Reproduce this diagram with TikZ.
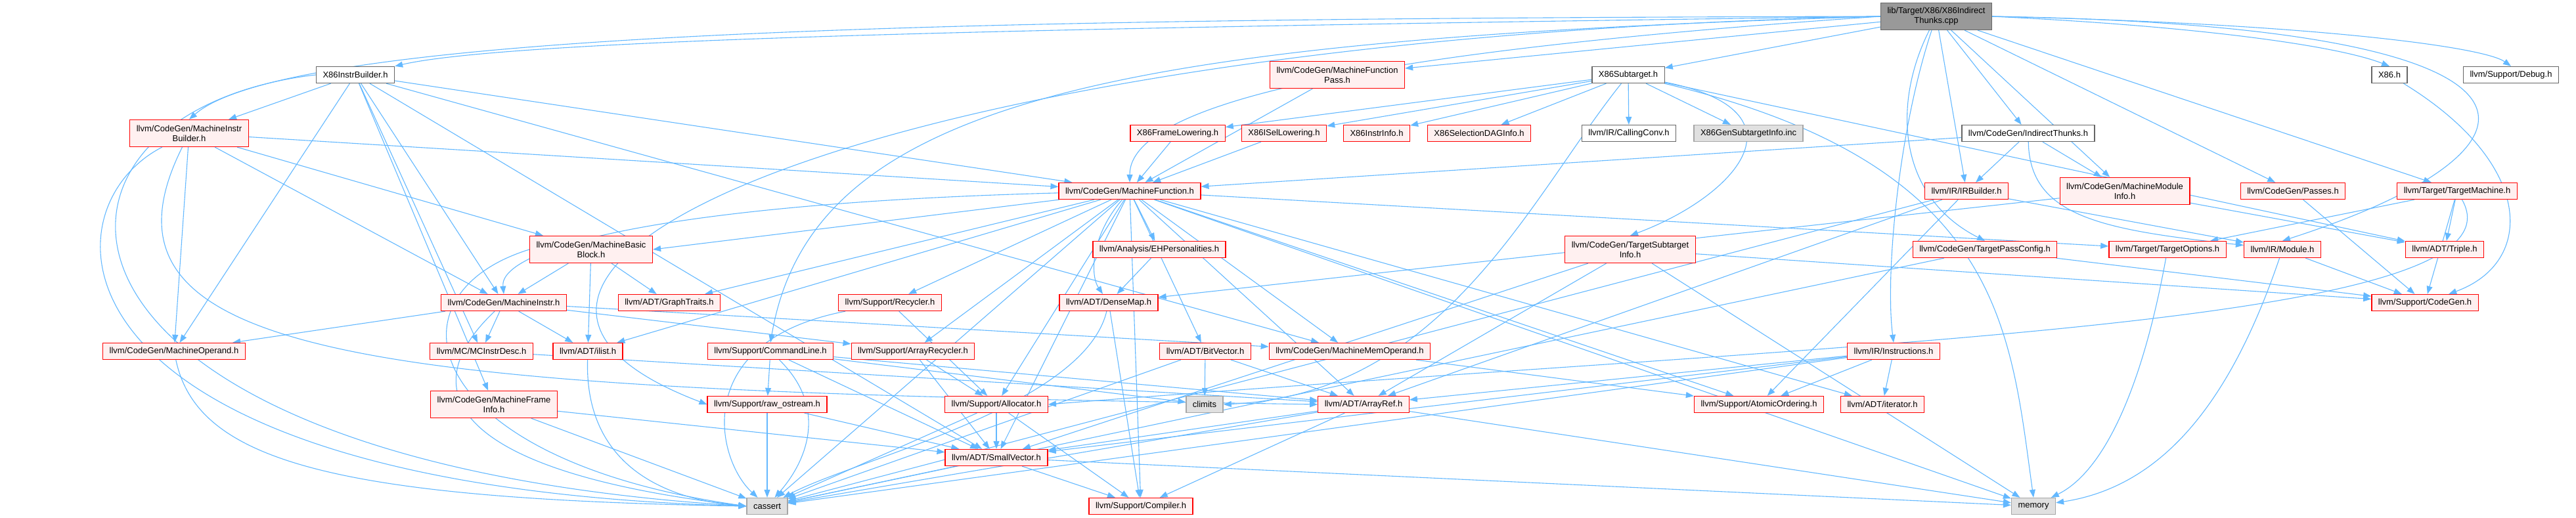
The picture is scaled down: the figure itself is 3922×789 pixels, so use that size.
\documentclass[tikz,border=0pt]{standalone}
\usepackage{fontspec}
\setmainfont{Liberation Sans}
\usetikzlibrary{arrows.meta,backgrounds}
\definecolor{EdgeBlue}{HTML}{63B8FF}
\definecolor{BoxRed}{HTML}{FF0000}
\definecolor{BoxPink}{HTML}{FFF0F0}
\definecolor{BoxGrey}{HTML}{E0E0E0}
\definecolor{RootGrey}{HTML}{999999}

\begin{document}
\begin{tikzpicture}[x=1pt,y=1pt,font=\fontsize{13}{15}\selectfont,>={Triangle[length=12pt,width=9pt]},
  hdr/.style={draw=BoxRed,fill=BoxPink,line width=1.3pt,minimum height=25pt,inner xsep=10pt,inner ysep=2pt,align=center},
  hdrtwo/.style={hdr,minimum height=41pt},
  doc/.style={hdr,draw=black!60,fill=white},
  sys/.style={hdr,draw=black!35,fill=BoxGrey},
  root/.style={hdr,draw=black!60,fill=RootGrey,minimum height=41pt},
  dep/.style={->,draw=EdgeBlue,line width=1.1pt}]
  \useasboundingbox (0,0) rectangle (3922,-789);

  % row 0 and 1
  \node[root]   (main)   at (2948,-25)  {lib/Target/X86/X86Indirect\\Thunks.cpp};
  \node[doc]    (x86ib)  at (541,-114)  {X86InstrBuilder.h};
  \node[hdrtwo] (mib)    at (288,-203)  {llvm/CodeGen/MachineInstr\\Builder.h};
  \node[hdrtwo] (mfp)    at (2036,-114) {llvm/CodeGen/MachineFunction\\Pass.h};
  \node[doc]    (x86st)  at (2479,-114) {X86Subtarget.h};
  \node[doc]    (x86h)   at (3638,-114) {X86.h};
  \node[doc]    (dbg)    at (3823,-114) {llvm/Support/Debug.h};
  % row 2
  \node[hdr]    (fl)     at (1793,-203) {X86FrameLowering.h};
  \node[hdr]    (isel)   at (1955,-203) {X86ISelLowering.h};
  \node[hdr]    (ii)     at (2096,-203) {X86InstrInfo.h};
  \node[hdr]    (sdag)   at (2252,-203) {X86SelectionDAGInfo.h};
  \node[doc]    (cc)     at (2480,-203) {llvm/IR/CallingConv.h};
  \node[sys]    (gsi)    at (2662,-203) {X86GenSubtargetInfo.inc};
  \node[doc]    (it)     at (3088,-203) {llvm/CodeGen/IndirectThunks.h};
  % row 3
  \node[hdr]    (mf)     at (1720,-291) {llvm/CodeGen/MachineFunction.h};
  \node[hdr]    (irb)    at (2994,-291) {llvm/IR/IRBuilder.h};
  \node[hdrtwo] (mmi)    at (3235,-291) {llvm/CodeGen/MachineModule\\Info.h};
  \node[hdr]    (passes) at (3491,-291) {llvm/CodeGen/Passes.h};
  \node[hdr]    (tm)     at (3741,-291) {llvm/Target/TargetMachine.h};
  % row 4
  \node[hdrtwo] (mbb)    at (900,-380)  {llvm/CodeGen/MachineBasic\\Block.h};
  \node[hdr]    (ehp)    at (1765,-380) {llvm/Analysis/EHPersonalities.h};
  \node[hdrtwo] (tsi)    at (2482,-380) {llvm/CodeGen/TargetSubtarget\\Info.h};
  \node[hdr]    (tpc)    at (3022,-380) {llvm/CodeGen/TargetPassConfig.h};
  \node[hdr]    (topt)   at (3300,-380) {llvm/Target/TargetOptions.h};
  \node[hdr]    (mod)    at (3475,-380) {llvm/IR/Module.h};
  \node[hdr]    (triple) at (3722,-380) {llvm/ADT/Triple.h};
  % row 5
  \node[hdr]    (mi)     at (767,-461)  {llvm/CodeGen/MachineInstr.h};
  \node[hdr]    (gt)     at (1019,-461) {llvm/ADT/GraphTraits.h};
  \node[hdr]    (rec)    at (1355,-461) {llvm/Support/Recycler.h};
  \node[hdr]    (dm)     at (1688,-461) {llvm/ADT/DenseMap.h};
  \node[hdr]    (scg)    at (3692,-461) {llvm/Support/CodeGen.h};
  % row 6
  \node[hdr]    (mo)     at (265,-535)  {llvm/CodeGen/MachineOperand.h};
  \node[hdr]    (mcid)   at (733,-535)  {llvm/MC/MCInstrDesc.h};
  \node[hdr]    (ilist)  at (895,-535)  {llvm/ADT/ilist.h};
  \node[hdr]    (cl)     at (1173,-535) {llvm/Support/CommandLine.h};
  \node[hdr]    (arec)   at (1390,-535) {llvm/Support/ArrayRecycler.h};
  \node[hdr]    (bv)     at (1835,-535) {llvm/ADT/BitVector.h};
  \node[hdr]    (mmo)    at (2055,-535) {llvm/CodeGen/MachineMemOperand.h};
  \node[hdr]    (inst)   at (2883,-535) {llvm/IR/Instructions.h};
  % row 7
  \node[hdrtwo] (mfi)    at (752,-616)  {llvm/CodeGen/MachineFrame\\Info.h};
  \node[hdr]    (ros)    at (1168,-616) {llvm/Support/raw\_ostream.h};
  \node[hdr]    (alloc)  at (1517,-616) {llvm/Support/Allocator.h};
  \node[sys]    (climits) at (1834,-616) {climits};
  \node[hdr]    (aref)   at (2076,-616) {llvm/ADT/ArrayRef.h};
  \node[hdr]    (ao)     at (2678,-616) {llvm/Support/AtomicOrdering.h};
  \node[hdr]    (iter)   at (2866,-616) {llvm/ADT/iterator.h};
  % row 8 and 9
  \node[hdr]    (sv)     at (1517,-697) {llvm/ADT/SmallVector.h};
  \node[sys]    (cassert) at (1168,-771) {cassert};
  \node[hdr]    (comp)   at (1737,-771) {llvm/Support/Compiler.h};
  \node[sys]    (memory) at (3096,-771) {memory};

  \begin{scope}[on background layer]
  % from the .cpp file
  \draw[dep] (main.west) .. controls (1800,-40) and (800,-55) .. (x86ib.north east);
  \draw[dep] (main.west) .. controls (1600,-28) and (450,-40) .. (mib.north);
  \draw[dep] (main) -- (mfp); \draw[dep] (main) -- (x86st);
  \draw[dep] (main.east) .. controls (3350,-40) and (3560,-70) .. (x86h.north);
  \draw[dep] (main.east) .. controls (3500,-35) and (3780,-70) .. (dbg.north);
  \draw[dep] (main) -- (it); \draw[dep] (main) -- (irb); \draw[dep] (main) -- (mmi);
  \draw[dep] (main) -- (passes); \draw[dep] (main) -- (tm);
  \draw[dep] (main.east) .. controls (3960,-40) and (3900,-230) .. (mod.north);
  \draw[dep] (main) .. controls (2880,-160) and (2890,-300) .. (tpc.north);
  \draw[dep] (main) .. controls (2890,-200) and (2870,-420) .. (inst.north);
  \draw[dep] (main.west) .. controls (2200,-70) and (1720,-140) .. (mf.north);
  \draw[dep] (main.west) .. controls (1700,-60) and (1236,-150) .. (cl.north);
  \draw[dep] (main.west) .. controls (1300,-60) and (560,-420) .. (ros.west);
  % X86InstrBuilder.h
  \draw[dep] (x86ib) -- (mib); \draw[dep] (x86ib) -- (mf); \draw[dep] (x86ib) -- (mi);
  \draw[dep] (x86ib) -- (mo); \draw[dep] (x86ib) -- (mfi); \draw[dep] (x86ib) -- (mcid);
  \draw[dep] (x86ib) -- (mmo); \draw[dep] (x86ib) -- (sv);
  \draw[dep] (x86ib.west) .. controls (0,-170) and (0,-700) .. (cassert.west);
  % MachineInstrBuilder.h
  \draw[dep] (mib) -- (mbb); \draw[dep] (mib) -- (mf); \draw[dep] (mib) -- (mi); \draw[dep] (mib) -- (mo);
  \draw[dep] (mib) .. controls (110,-560) and (600,-595) .. (aref.west);
  \draw[dep] (mib) .. controls (60,-320) and (60,-740) .. (cassert.west);
  % X86Subtarget.h
  \draw[dep] (x86st) -- (fl); \draw[dep] (x86st) -- (isel); \draw[dep] (x86st) -- (ii);
  \draw[dep] (x86st) -- (sdag); \draw[dep] (x86st) -- (cc); \draw[dep] (x86st) -- (gsi);
  \draw[dep] (x86st) .. controls (2760,-170) and (2640,-300) .. (tsi.north);
  \draw[dep] (x86st) -- (triple);
  \draw[dep] (x86st) .. controls (2330,-300) and (2200,-600) .. (climits.east);
  \draw[dep] (x86st) .. controls (3050,-250) and (3060,-500) .. (memory.north);
  \draw[dep] (mfp) -- (mf); \draw[dep] (fl) -- (mf); \draw[dep] (isel) -- (mf);
  % IndirectThunks.h and the target headers
  \draw[dep] (it) -- (mf); \draw[dep] (it) -- (irb); \draw[dep] (it) -- (mmi);
  \draw[dep] (it) .. controls (3090,-330) and (3200,-350) .. (mod);
  \draw[dep] (irb) -- (mod); \draw[dep] (irb) -- (aref); \draw[dep] (irb) -- (ao);
  \draw[dep] (irb) -- (cassert);
  \draw[dep] (mmi) -- (dm); \draw[dep] (mmi) -- (triple);
  \draw[dep] (passes) -- (scg); \draw[dep] (x86h) .. controls (3860,-250) and (3860,-400) .. (scg);
  \draw[dep] (tm) -- (topt); \draw[dep] (tm) -- (triple); \draw[dep] (tm) -- (scg);
  \draw[dep] (tm) .. controls (3860,-500) and (2800,-520) .. (alloc.east);
  \draw[dep] (tpc) -- (scg); \draw[dep] (tpc) -- (cassert);
  \draw[dep] (topt) .. controls (3260,-600) and (3200,-720) .. (memory);
  \draw[dep] (mod) -- (scg); \draw[dep] (mod) .. controls (3400,-600) and (3300,-740) .. (memory);
  \draw[dep] (tsi) -- (aref); \draw[dep] (tsi) -- (sv); \draw[dep] (tsi) -- (scg); \draw[dep] (tsi) -- (memory);
  % MachineFunction.h
  \draw[dep] (mf) -- (mbb.east); \draw[dep] (mf) .. controls (1000,-310) and (760,-380) .. (mi.north);
  \draw[dep] (mf) -- (gt); \draw[dep] (mf) -- (rec); \draw[dep] (mf) -- (arec); \draw[dep] (mf) -- (alloc);
  \draw[dep] (mf) .. controls (1660,-360) and (1660,-420) .. (dm); \draw[dep] (mf) -- (ehp);
  \draw[dep] (mf) -- (bv); \draw[dep] (mf) -- (mmo); \draw[dep] (mf) -- (aref); \draw[dep] (mf) -- (ao);
  \draw[dep] (mf) -- (iter); \draw[dep] (mf) -- (topt); \draw[dep] (mf) -- (comp);
  \draw[dep] (mf) -- (cassert); \draw[dep] (mf) -- (memory); \draw[dep] (mf) -- (sv); \draw[dep] (mf) -- (ilist);
  \draw[dep] (ehp) -- (dm);
  % MachineBasicBlock.h and MachineInstr.h
  \draw[dep] (mbb) -- (mi); \draw[dep] (mbb) -- (gt); \draw[dep] (mbb) -- (ilist);
  \draw[dep] (mbb.west) .. controls (580,-450) and (640,-700) .. (cassert.west);
  \draw[dep] (mi) -- (mo); \draw[dep] (mi) -- (mcid); \draw[dep] (mi) -- (ilist);
  \draw[dep] (mi) -- (mmo); \draw[dep] (mi) -- (arec);
  \draw[dep] (mi) .. controls (620,-600) and (700,-720) .. (cassert.west);
  \draw[dep] (mo) .. controls (300,-700) and (500,-760) .. (cassert.west);
  \draw[dep] (mcid) -- (aref);
  \draw[dep] (ilist) .. controls (890,-700) and (1000,-760) .. (cassert.west);
  \draw[dep] (mfi) -- (sv); \draw[dep] (mfi) -- (cassert);
  % ADT and Support headers
  \draw[dep] (dm) -- (comp); \draw[dep] (dm) .. controls (1650,-620) and (1300,-700) .. (cassert);
  \draw[dep] (rec) -- (alloc); \draw[dep] (rec) .. controls (1050,-520) and (1090,-700) .. (cassert);
  \draw[dep] (arec) -- (alloc); \draw[dep] (arec) -- (sv);
  \draw[dep] (cl) -- (ros); \draw[dep] (cl) -- (sv); \draw[dep] (cl) -- (climits); \draw[dep] (cl) -- (aref);
  \draw[dep] (cl) .. controls (1260,-620) and (1230,-700) .. (cassert);
  \draw[dep] (ros) -- (sv); \draw[dep] (ros) -- (cassert);
  \draw[dep] (alloc) -- (sv); \draw[dep] (alloc) -- (comp); \draw[dep] (alloc) -- (cassert);
  \draw[dep] (bv) -- (climits); \draw[dep] (bv) -- (aref); \draw[dep] (bv) -- (cassert);
  \draw[dep] (mmo) -- (ao);
  \draw[dep] (inst) -- (aref); \draw[dep] (inst) -- (ao); \draw[dep] (inst) -- (iter);
  \draw[dep] (inst) -- (sv); \draw[dep] (inst) -- (cassert);
  \draw[dep] (aref) -- (sv); \draw[dep] (aref) -- (comp); \draw[dep] (aref) -- (cassert); \draw[dep] (aref) -- (memory);
  \draw[dep] (sv) -- (comp); \draw[dep] (sv) -- (cassert); \draw[dep] (sv) -- (memory);
  \end{scope}
\end{tikzpicture}
\end{document}
